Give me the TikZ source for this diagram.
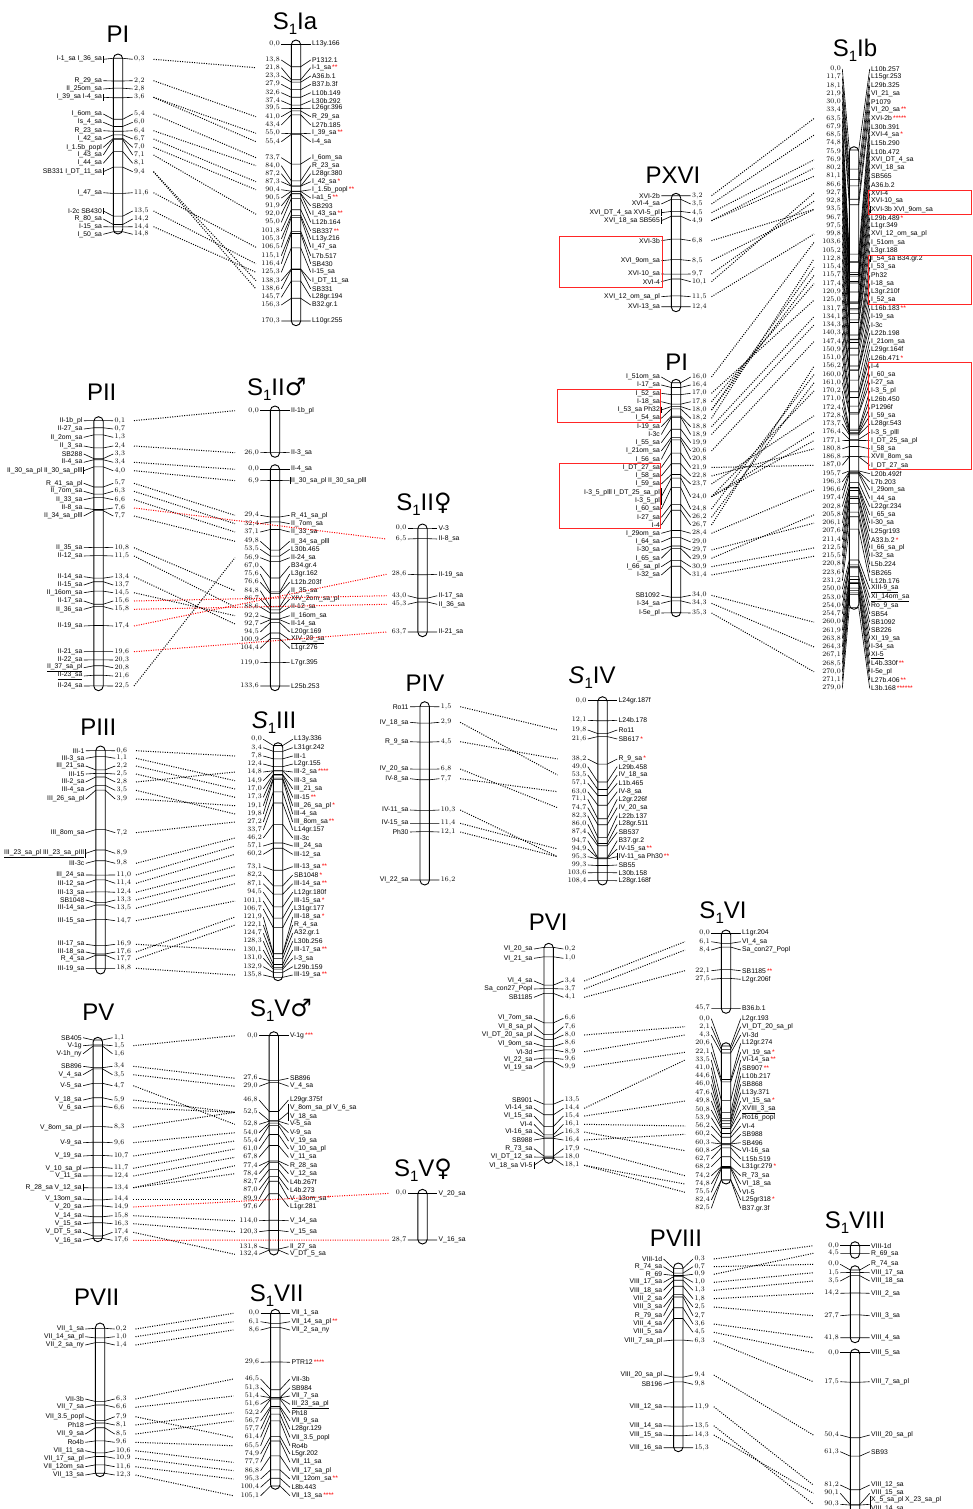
\documentclass[tikz,border=0pt]{standalone}
\usepackage{fontspec}
\setmainfont{Liberation Sans}
\newfontfamily\symf{DejaVu Sans}
\usetikzlibrary{positioning}
\pgfkeys{/pgf/number format/.cd,fixed,fixed zerofill,precision=1,use comma}

\newcommand\rs[1]{\,\textcolor{red}{#1}}
\newcommand\Sone{S\raisebox{-5pt}{\fontsize{15}{15}\selectfont 1}}
\newcommand\Sonei{\textit{S}\raisebox{-5pt}{\fontsize{15}{15}\selectfont 1}}
\newcommand\twor[2]{\begin{tabular}{@{}r@{}}#1\\#2\end{tabular}}
\newcommand\twol[2]{\begin{tabular}{@{}l@{}}#1\\#2\end{tabular}}
\def\armL{10}\def\armR{10}\def\lnkP{35.5}\def\lnkS{40}

% P map: names left, cM right
\newcommand\pmap[7]{%
  \draw[chromo] (#2-4.7,#5) rectangle (#2+4.7,#6);
  \foreach \mpos/\ly/\nm [count=\i] in {#7} {
    \pgfmathsetmacro\by{#3+#4*\mpos}
    \draw[tick] (#2-\armL-4.7,\ly) -- (#2-4.7,\by) -- (#2+4.7,\by) -- (#2+\armR+4.7,\ly);
    \node[lab, anchor=east] (#1-n\i) at (#2-\armL-6,\ly) {\nm};
    \node[lab, anchor=west] (#1-p\i) at (#2+\armR+6,\ly) {\pgfmathprintnumber{\mpos}};
    \coordinate (#1-r\i) at (#2+\lnkP,\ly);
  }
}
% S1 map: cM left, names right
\newcommand\smap[7]{%
  \draw[chromo] (#2-4.7,#5) rectangle (#2+4.7,#6);
  \foreach \mpos/\ly/\nm [count=\i] in {#7} {
    \pgfmathsetmacro\by{#3+#4*\mpos}
    \draw[tick] (#2-\armL-4.7,\ly) -- (#2-4.7,\by) -- (#2+4.7,\by) -- (#2+\armR+4.7,\ly);
    \node[lab, anchor=east] (#1-p\i) at (#2-\armL-6,\ly) {\pgfmathprintnumber{\mpos}};
    \node[lab, anchor=west] (#1-n\i) at (#2+\armR+6,\ly) {\nm};
    \coordinate (#1-l\i) at (#2-\lnkS,\ly);
  }
}

\begin{document}
\catcode`\_=12
\begin{tikzpicture}[x=1pt, y=-1pt,
  chromo/.style={draw=black, fill=white, line width=0.9pt, rounded corners=4.7pt},
  tick/.style={line width=0.6pt},
  lab/.style={font=\fontsize{6.8}{8.2}\selectfont, inner sep=0pt},
  title/.style={font=\fontsize{24}{24}\selectfont, inner sep=0pt, anchor=base},
  link/.style={line width=1pt, dash pattern=on 1pt off 1.4pt},
  redlink/.style={link, draw=red},
  redbox/.style={draw=red!85, line width=0.8pt}]
  \useasboundingbox (0,0) rectangle (972,1509);

  % Titles
  \node[title] (t-PI) at (118,43) {PI};
  \node[title] (t-SIa) at (295,30) {\Sone Ia};
  \node[title] (t-PXVI) at (673,183) {PXVI};
  \node[title] (t-SIb) at (855,56.5) {\Sone Ib};
  \node[title] (t-PIb) at (676.7,370) {PI};
  \node[title] (t-PII) at (101.7,400) {PII};
  \node[title] (t-SIIm) at (276.7,395) {\Sone II{\symf ♂}};
  \node[title] (t-SIIf) at (424,510) {\Sone II{\symf ♀}};
  \node[title] (t-PIII) at (98.3,735) {PIII};
  \node[title] (t-SIII) at (274,728) {\Sonei III};
  \node[title] (t-PIV) at (425,691.5) {PIV};
  \node[title] (t-SIV) at (592,683) {\Sonei IV};
  \node[title] (t-PV) at (98.3,1020) {PV};
  \node[title] (t-SVm) at (281,1016) {\Sone V{\symf ♂}};
  \node[title] (t-SVf) at (423,1176) {\Sone V{\symf ♀}};
  \node[title] (t-PVI) at (548.3,930) {PVI};
  \node[title] (t-SVI) at (723,918) {\Sone VI};
  \node[title] (t-PVII) at (96.7,1305) {PVII};
  \node[title] (t-SVII) at (276.7,1301.5) {\Sone VII};
  \node[title] (t-PVIII) at (676,1246.5) {PVIII};
  \node[title] (t-SVIII) at (855,1228) {\Sone VIII};

  % Group I
  \pmap{PI}{118}{54.7}{11.96}{54}{234}{
    0.3/59.3/I-1_sa I_36_sa, 2.2/80.7/R_29_sa, 2.8/89/II_25om_sa, 3.6/97.3/I_39_sa I-4_sa,
    5.4/114/I_6om_sa, 6.0/122.3/Is_4_sa, 6.4/130.7/R_23_sa, 6.7/139/I_42_sa,
    7.0/147.3/I_1.5b_popl, 7.1/155/I_43_sa, 8.1/163.3/I_44_sa, 9.4/171.7/SB331 I_DT_11_sa,
    11.6/192.7/I_47_sa, 13.5/211/I-2c SB430, 14.2/219/R_80_sa, 14.4/226.7/I-15_sa, 14.8/234.3/I_50_sa}
  \smap{SIa}{296}{44.3}{1.625}{40}{325.7}{
    0.0/44.3/L13y.166, 13.8/60/P1312.1, 21.8/67.7/I-1_sa\rs{**}, 23.3/76/A36.b.1,
    27.9/84.3/B37.b.3f, 32.6/92.7/L10b.149, 37.4/100.7/L30b.292, 39.5/108.3/L26gr.396,
    41.0/116.7/R_29_sa, 43.4/125/L27b.185, 55.0/133.3/I_39_sa\rs{**}, 55.4/141.7/I-4_sa,
    73.7/157.7/I_6om_sa, 84.0/165.7/R_23_sa, 87.2/173.7/L28gr.380, 87.3/181.7/I_42_sa\rs{*},
    90.4/189.7/I_1.5b_popl\rs{**}, 90.5/198/I-a1_5\rs{**}, 91.9/206/SB293, 92.0/214.3/I_43_sa\rs{**},
    95.0/222.3/L12b.164, 101.8/231/SB337\rs{**}, 105.3/239/L13y.216, 106.5/247.3/I_47_sa,
    115.1/255.7/L7b.517, 116.4/263.7/SB430, 125.3/272.3/I-15_sa, 138.3/280.7/I_DT_11_sa,
    138.6/289/SB331, 145.7/297.3/L28gr.194, 156.3/305/B32.gr.1, 170.3/321/L10gr.255}

  % Group XVI and lower part of I
  \pmap{PXVI}{676}{157.1}{12.07}{193.3}{311.7}{
    3.2/195.7/XVI-2b, 3.5/204/XVI-4_sa, 4.5/212.7/XVI_DT_4_sa XVI-5_pl, 4.9/220.7/XVI_18_sa SB565,
    6.8/240.7/XVI-3b, 8.5/260.7/XVI_9om_sa, 9.7/274/XVI-10_sa, 10.1/281.7/XVI-4,
    11.5/296.7/XVI_12_om_sa_pl, 12.4/306.7/XVI-13_sa}
  \pmap{PIb}{676}{192.0}{11.92}{379.3}{616.7}{
    16.0/377/I_51om_sa, 16.4/385/I-17_sa, 17.0/393.3/I_52_sa, 17.8/401.7/I-18_sa,
    18.0/410/I_53_sa Ph32, 18.2/418.3/I_54_sa, 18.8/426.7/I-19_sa, 18.9/434.5/I-3c,
    19.9/442.7/I_55_sa, 20.6/451/I_21om_sa, 20.8/459.3/I_56_sa, 21.9/467.5/I_DT_27_sa,
    22.8/476/I_58_sa, 23.7/484/I_59_sa, 24.0/496.7/{\twor{I-3_5_plll I_DT_25_sa_pl}{I-3_5_pl}},
    24.8/509/I_60_sa, 26.2/517.3/I-27_sa, 26.7/525/I-4, 28.4/533.3/I_29om_sa, 29.0/542/I_64_sa,
    29.7/550/I-30_sa, 29.9/558.3/I_65_sa, 30.9/566.7/I_66_sa_pl, 31.4/575/I-32_sa,
    34.0/595.3/SB1092, 34.3/603.3/I-34_sa, 35.3/613/I-5e_pl}
  \def\armL{7}\def\armR{11}
  \smap{SIb}{854}{150}{1.64}{146.7}{609.3}{
    0.0/69/L10b.257, 11.7/77.3/L15gr.253, 18.1/85.5/L29b.325, 21.9/93.8/VI_21_sa,
    30.0/102/P1079, 33.4/110.3/VI_20_sa\rs{**}, 63.5/118.5/XVI-2b\rs{*****}, 67.9/126.8/L30b.391,
    68.5/135.1/XVI-4_sa\rs{*}, 74.8/143.3/L15b.290, 75.9/151.6/L10b.472, 76.9/159.8/XVI_DT_4_sa,
    80.2/168.1/XVI_18_sa, 81.1/176.3/SB565, 86.6/184.6/A36.b.2, 92.7/192.9/XVI-4,
    92.8/201.1/XVI-10_sa, 93.5/209.4/XVI-3b XVI_9om_sa, 96.7/217.6/L29b.489\rs{*}, 97.5/225.9/L1gr.349,
    99.8/234.1/XVI_12_om_sa_pl, 103.6/242.4/I_51om_sa, 105.2/250.7/L3gr.188, 112.8/258.9/I_54_sa B34.gr.2,
    115.4/267.2/I_53_sa, 115.7/275.4/Ph32, 117.4/283.7/I-18_sa, 120.9/291.9/L3gr.210f,
    125.0/300.2/I_52_sa, 131.7/308.5/L16b.183\rs{**}, 134.1/316.7/I-19_sa, 134.3/325/I-3c,
    140.3/333.2/L22b.198, 147.4/341.5/I_21om_sa, 150.9/349.7/L29gr.164f, 151.0/358/L26b.471\rs{*},
    156.2/366.3/I-4, 160.0/374.5/I_60_sa, 161.0/382.8/I-27_sa, 170.2/391/I-3_5_pl,
    171.0/399.3/L26b.450, 172.4/407.5/P1296f, 172.8/415.8/I_59_sa, 173.7/424.1/L28gr.543,
    176.4/432.3/I-3_5_plll, 177.1/440.6/I_DT_25_sa_pl, 180.8/448.8/I_58_sa, 186.8/457.1/XVII_8om_sa,
    187.0/465.3/I_DT_27_sa, 195.7/473.6/L20b.492f, 196.3/481.9/L7b.203, 196.6/490.1/I_29om_sa,
    197.4/498.4/I_44_sa, 202.8/506.6/L22gr.234, 205.8/514.9/I_65_sa, 206.1/523.1/I-30_sa,
    207.6/531.4/L25gr193, 211.4/539.7/A33.b.2\rs{*}, 212.5/547.9/I_66_sa_pl, 215.5/556.2/I-32_sa,
    220.8/564.4/L5b.224, 223.6/572.7/SB265, 231.2/580.9/L12b.176, 250.0/589.2/\underline{XIII-9_sa},
    253.0/597.5/\underline{XI_14om_sa}, 254.0/605.7/Ro_9_sa, 254.7/614/SB54, 260.0/622.2/SB1092,
    261.9/630.5/SB226, 263.8/638.7/XI_19_sa, 264.3/647/I-34_sa, 267.1/655.3/\underline{XI-5},
    268.5/663.5/L4b.330f\rs{**}, 270.0/671.8/I-5e_pl, 271.1/680/L27b.406\rs{**}, 279.0/688.3/L3b.168\rs{******}}
  \def\armL{10}\def\armR{10}
  \draw[redbox] (559,236.7) rectangle (662,287.3);
  \draw[redbox] (557.3,389) rectangle (660.7,422.7);
  \draw[redbox] (559,463.3) rectangle (660.7,528.3);
  \draw[redbox] (868,190) rectangle (971.5,214);
  \draw[redbox] (868,255.7) rectangle (971.5,304.3);
  \draw[redbox] (868.7,362.3) rectangle (971.5,469);

  % Group II
  \pmap{PII}{98.5}{419.5}{11.84}{416.7}{690.7}{
    0.1/420.7/II-1b_pl, 0.7/429/II-27_sa, 1.3/437.3/II_2om_sa, 2.4/446/II_3_sa, 3.3/454/SB288,
    3.4/462.3/II-4_sa, 4.0/470.7/II_30_sa_pl II_30_sa_plll, 5.7/483.3/R_41_sa_pl, 6.3/491.3/II_7om_sa,
    6.6/499.7/II_33_sa, 7.6/508/II-8_sa, 7.7/516/II_34_sa_plll, 10.8/547.7/II_35_sa, 11.5/556/II-12_sa,
    13.4/576.7/II-14_sa, 13.7/585/II-15_sa, 14.5/592.7/II_16om_sa, 15.6/601/II-17_sa, 15.8/609.3/II_36_sa,
    17.4/626/II-19_sa, 19.6/651.7/II-21_sa, 20.3/660/II-22_sa, 20.8/667.7/\underline{II_37_sa_pl},
    21.6/676/\underline{II-23_sa}, 22.5/686/II-24_sa}
  \smap{SIIma}{275}{410.7}{1.6}{406}{457.3}{0.0/410.7/II-1b_pl, 26.0/452.7/II-3_sa}
  \smap{SIImb}{275}{469.3}{1.622}{464.7}{690.7}{
    0.0/469.3/II-4_sa, 6.9/480.7/II_30_sa_pl II_30_sa_plll, 29.4/515.3/R_41_sa_pl, 32.4/523.7/II_7om_sa,
    37.1/532/II_33_sa, 49.8/541.3/II_34_sa_plll, 53.5/549.3/L30b.465, 56.9/557.7/II-24_sa,
    67.0/566/B34.gr.4, 75.6/574/L3gr.162, 76.6/582.3/L12b.203f, 84.8/590.7/II_35_sa,
    86.7/599/XIV_2om_sa_pl, 88.6/607/II-12_sa, 92.2/615.7/II_16om_sa, 92.7/624/II-14_sa,
    94.5/632/L20gr.169, 100.9/640/\underline{XIV_20_sa}, 104.4/648.3/L1gr.276, 119.0/662.7/L7gr.395,
    133.6/686/L25b.253}
  \def\lnkS{36}
  \smap{SIIf}{422.5}{528}{1.633}{524}{636.7}{
    0.0/528/V-3, 6.5/539/II-8_sa, 28.6/574.3/II-19_sa, 43.0/595.7/II-17_sa, 45.3/604.3/II_36_sa,
    63.7/632/II-21_sa}

  % Group III
  \pmap{PIII}{100.5}{743.5}{11.96}{746}{974}{
    0.6/750.7/III-1, 1.1/758.3/III-3_sa, 2.2/766/III_21_sa, 2.5/774/III-15, 2.8/782/III-2_sa,
    3.5/790.3/III-4_sa, 3.9/799/III_26_sa_pl, 7.2/832.7/III_8om_sa,
    8.9/853.3/\underline{III_23_sa_pl III_23_sa_pIII}, 9.8/863.3/III-3c, 11.0/875/III_24_sa,
    11.4/883.3/III-12_sa, 12.4/892.3/III-13_sa, 13.3/900/SB1048, 13.5/908.3/III-14_sa,
    14.7/920.7/III-15_sa, 16.9/944.3/III-17_sa, 17.6/952/III-18_sa, 17.7/959.3/R_4_sa, 18.8/968.3/III-19_sa}
  \def\lnkS{43}
  \smap{SIII}{278}{745.5}{1.707}{742.7}{980.7}{
    0.0/739.3/L13y.336, 3.4/747.7/L31gr.242, 7.8/756/III-1, 12.4/764/L2gr.155,
    14.8/772/III-2_sa\rs{****}, 14.9/780.7/III-3_sa, 17.0/789/III_21_sa, 17.3/797.3/III-15\rs{**},
    19.1/805.7/III_26_sa_pl\rs{*}, 19.8/814/III-4_sa, 27.2/822/III_8om_sa\rs{**}, 33.7/830/L14gr.157,
    46.2/838/III-3c, 57.1/846/III_24_sa, 60.2/854.3/III-12_sa, 73.1/866.7/III-13_sa\rs{**},
    82.2/875/SB1048\rs{*}, 87.1/883.7/III-14_sa\rs{**}, 94.5/892.3/L12gr.180f, 101.1/901/III-15_sa\rs{*},
    106.7/909/L31gr.177, 121.9/917/III-18_sa\rs{*}, 122.1/925/R_4_sa, 124.7/933.3/A32.gr.1,
    128.3/941.3/L30b.256, 130.1/950/III-17_sa\rs{**}, 131.0/958.3/I-3_sa, 132.9/966.7/L29b.159,
    135.8/975/III-19_sa\rs{**}}

  % Group IV
  \pmap{PIV}{424.7}{689}{11.79}{701.7}{885}{
    1.5/706.7/Ro11, 2.9/722.3/IV_18_sa, 4.5/741.7/R_9_sa, 6.8/769/IV_20_sa, 7.7/778.7/IV-8_sa,
    10.3/810/IV-11_sa, 11.4/823.3/IV-15_sa, 12.1/832/Ph30, 16.2/880/VI_22_sa}
  \def\lnkS{45}
  \smap{SIV}{602.5}{700.7}{1.66}{696.7}{885}{
    0.0/700.7/L24gr.187f, 12.1/720.3/L24b.178, 19.8/730/Ro11, 21.6/739/SB617\rs{*},
    38.2/759/R_9_sa\rs{*}, 49.0/766.7/L29b.458, 53.5/775/IV_18_sa, 57.1/783.3/L1b.465,
    63.0/791.7/IV-8_sa, 71.1/799.3/L2gr.226f, 74.7/807.7/IV_20_sa, 82.3/815.7/L22b.137,
    86.0/824.3/L28gr.511, 87.4/832.3/SB537, 94.7/840.7/B37.gr.2, 94.9/849/IV-15_sa\rs{**},
    95.3/856.7/IV-11_sa Ph30\rs{**}, 99.3/865/SB55, 103.6/872.7/L30b.158, 108.4/880.7/L28gr.168f}

  % Group V
  \pmap{PV}{97.8}{1026.8}{12.02}{1037.3}{1241.7}{
    1.1/1037.7/SB405, 1.5/1045.7/V-1g, 1.6/1053.7/V-1h_ny, 3.4/1066.3/SB896, 3.5/1074.7/V_4_sa,
    4.7/1085.7/V-5_sa, 5.9/1100/V_18_sa, 6.6/1107.7/V_6_sa, 8.3/1127.3/V_8om_sa_pl, 9.6/1142.7/V-9_sa,
    10.7/1156/V_19_sa, 11.7/1168.3/V_10_sa_pl, 12.4/1176/V_11_sa, 13.4/1187.7/R_28_sa V_12_sa,
    14.4/1199/V_13om_sa, 14.9/1207/V_20_sa, 15.8/1215.7/V_14_sa, 16.3/1223.7/V_15_sa,
    17.4/1232.3/V_DT_5_sa, 17.6/1240.3/V_16_sa}
  \def\lnkS{39}
  \smap{SVm}{273.8}{1035.7}{1.619}{1031.7}{1255}{
    0.0/1035.7/V-1g\rs{***}, 27.6/1078.3/SB896, 29.0/1086.3/V_4_sa, 46.8/1100/L29gr.375f,
    52.5/1112.3/{\twol{V_8om_sa_pl V_6_sa}{V_18_sa}}, 52.8/1124.3/V-5_sa, 54.0/1132.7/V-9_sa,
    55.4/1141/V_19_sa, 61.0/1149/V_10_sa_pl, 67.8/1157.3/V_11_sa, 77.4/1165.7/R_28_sa,
    78.4/1173.7/V_12_sa, 82.7/1182.3/L4b.267f, 87.0/1190/L4b.273, 89.9/1199/V_13om_sa\rs{*},
    97.6/1206.7/L1gr.281, 114.0/1220.7/V_14_sa, 120.3/1231.7/V_15_sa, 131.8/1246.7/II_27_sa,
    132.4/1254.3/V_DT_5_sa}
  \def\lnkS{33}
  \smap{SVf}{422.5}{1193.3}{1.627}{1189.3}{1244}{0.0/1193.3/V_20_sa, 28.7/1240/V_16_sa}

  % Group VI
  \pmap{PVI}{548.7}{945}{11.79}{943.3}{1163.3}{
    0.2/949/VI_20_sa, 1.0/958.3/VI_21_sa, 3.4/981/VI_4_sa, 3.7/989/Sa_con27_Popl, 4.1/997.3/SB1185,
    6.6/1018.3/VI_7om_sa, 7.6/1026.7/VI_8_sa_pl, 8.0/1035/VI_DT_20_sa_pl, 8.6/1043.3/VI_9om_sa,
    8.9/1051.7/VI-3d, 9.6/1059.3/VI_22_sa, 9.9/1067.3/VI_19_sa, 13.5/1100/SB901, 14.4/1108.3/VI-14_sa,
    15.4/1116/VI_15_sa, 16.1/1124.3/VI-4, 16.3/1132/VI-16_sa, 16.4/1140/SB988, 17.9/1148.7/R_73_sa,
    18.0/1157/VI_DT_12_sa, 18.1/1165.3/VI_18_sa VI-5}
  \def\lnkS{41}
  \smap{SVIa}{726}{933.3}{1.641}{930}{1013.3}{
    0.0/933.3/L1gr.204, 6.1/941.7/VI_4_sa, 8.4/950/Sa_con27_Popl, 22.1/970.7/SB1185\rs{**},
    27.5/979.3/L2gr.206f, 45.7/1008.3/B36.b.1}
  \smap{SVIb}{726}{1046}{1.624}{1042.7}{1184}{
    0.0/1018.7/L2gr.193, 2.1/1026.7/VI_DT_20_sa_pl, 4.3/1035/VI-3d, 20.6/1043.3/L12gr.274,
    22.1/1052.3/VI_19_sa\rs{*}, 33.5/1060/VI-14_sa\rs{**}, 41.0/1067.7/SB907\rs{**}, 44.6/1076/L10b.217,
    46.0/1084.3/SB868, 47.6/1092.7/L13y.371, 49.8/1101/VI_15_sa\rs{*}, 50.8/1110/\underline{XVIII_3_sa},
    53.9/1117.7/Ro16_popl, 56.2/1126/VI-4, 60.2/1134.3/SB988, 60.3/1142.7/SB496, 60.8/1150.7/VI-16_sa,
    62.7/1159/L15b.519, 68.2/1166.7/L31gr.279\rs{*}, 74.2/1175.7/R_73_sa, 74.8/1184/VI_18_sa,
    75.5/1192.3/VI-5, 82.4/1200/L25gr318\rs{*}, 82.5/1208.3/B37.gr.3f}

  % Group VII
  \pmap{PVII}{100}{1325.9}{11.98}{1323}{1476.7}{
    0.2/1329/VII_1_sa, 1.0/1336.7/VII_14_sa_pl, 1.4/1345/VII_2_sa_ny, 6.3/1399/VII-3b,
    6.6/1407.3/VII_7_sa, 7.9/1416.7/VII_3.5_popl, 8.1/1425/Ph18, 8.5/1434/VII_9_sa, 9.6/1442.3/Ro4b,
    10.6/1450.7/VII_11_sa, 10.9/1458.3/VII_17_sa_pl, 11.6/1466.7/VII_12om_sa, 12.3/1475/VII_13_sa}
  \def\lnkS{42}
  \smap{SVII}{275.3}{1313.3}{1.643}{1309.3}{1489.3}{
    0.0/1313.3/VII_1_sa, 6.1/1321.7/VII_14_sa_pl\rs{**}, 8.6/1330/VII_2_sa_ny, 29.6/1362.3/PTR12\rs{****},
    46.5/1379/VII-3b, 51.3/1387.7/SB984, 51.4/1396/VII_7_sa, 51.6/1404.3/\underline{III_23_sa_pl},
    52.2/1412.7/Ph18, 56.7/1421/VII_9_sa, 57.7/1429.3/L28gr.129, 61.4/1437.3/VII_3.5_popl,
    65.5/1445.7/Ro4b, 74.9/1454/L5gr.202, 77.7/1462.3/VII_11_sa, 86.8/1470.7/VII_17_sa_pl,
    95.3/1479/VII_12om_sa\rs{**}, 100.4/1487.3/L8b.443, 105.1/1495.7/VII_13_sa\rs{****}}

  % Group VIII
  \pmap{PVIII}{678.3}{1264.7}{11.96}{1263}{1451.7}{
    0.3/1259/VIII-1d, 0.7/1266.7/R_74_sa, 0.9/1274.3/R_69, 1.0/1282.3/VIII_17_sa, 1.3/1290.3/VIII_18_sa,
    1.8/1298.7/VIII_2_sa, 2.5/1307/VIII_3_sa, 2.7/1315.7/R_79_sa, 3.6/1324/VIII_4_sa,
    4.5/1332.3/VIII_5_sa, 6.3/1341/VIII_7_sa_pl, 9.4/1375/VIII_20_sa_pl, 9.8/1384.3/SB196,
    11.9/1406.7/VIII_12_sa, 13.5/1425.7/VIII_14_sa, 14.3/1435/VIII_15_sa, 15.3/1447.7/VIII_16_sa}
  \def\lnkS{41.7}
  \smap{SVIIIa}{855}{1245.7}{1.69}{1241.7}{1258.3}{0.0/1245.7/VIII-1d, 4.5/1253.3/R_69_sa}
  \smap{SVIIIb}{855}{1270}{1.62}{1265.7}{1342.7}{
    0.0/1264.3/R_74_sa, 1.5/1272.7/VIII_17_sa, 3.5/1281/VIII_18_sa, 14.2/1293.3/VIII_2_sa,
    27.7/1315.7/VIII_3_sa, 41.8/1337.7/VIII_4_sa}
  \smap{SVIIIc}{855}{1352.7}{1.687}{1349}{1514}{
    0.0/1352.7/VIII_5_sa, 17.5/1381.7/VIII_7_sa_pl, 50.4/1435/VIII_20_sa_pl, 61.3/1451.7/SB93,
    81.2/1485/VIII_12_sa, 90.1/1493.3/VIII_15_sa, 90.3/1504.3/{\twol{X_5_sa_pl X_23_sa_pl}{VIII_14_sa}}}

  % Ticks after labels that hold several markers
  \foreach \nd in {PI-n1, PI-n4, PI-n12, PI-n14, PXVI-n3, PXVI-n4, PIb-n5, PIb-n15, PII-n7, PIII-n9,
      PV-n14, PVI-n21}
    \draw[tick] ([xshift=1.2pt]\nd.north east) -- ([xshift=1.2pt]\nd.south east);
  \foreach \nd in {SIImb-n2, SIV-n17, SIb-n18, SIb-n24, SVm-n5, SVIIIc-n7}
    \draw[tick] ([xshift=-1.2pt]\nd.north west) -- ([xshift=-1.2pt]\nd.south west);

  % Links between the maps
  \foreach \src/\dst in {PI-r1/SIa-l3, PI-r2/SIa-l9, PI-r4/SIa-l11, PI-r4/SIa-l12, PI-r5/SIa-l13,
      PI-r7/SIa-l14, PI-r8/SIa-l16, PI-r9/SIa-l17, PI-r10/SIa-l20, PI-r12/SIa-l28, PI-r12/SIa-l29,
      PI-r13/SIa-l24, PI-r14/SIa-l26, PI-r16/SIa-l27,
      PXVI-r1/SIb-l7, PXVI-r2/SIb-l9, PXVI-r3/SIb-l12, PXVI-r4/SIb-l13, PXVI-r4/SIb-l14,
      PXVI-r5/SIb-l18, PXVI-r6/SIb-l18, PXVI-r7/SIb-l17, PXVI-r8/SIb-l16, PXVI-r9/SIb-l21,
      PIb-r1/SIb-l22, PIb-r3/SIb-l29, PIb-r4/SIb-l27, PIb-r5/SIb-l25, PIb-r5/SIb-l26, PIb-r6/SIb-l24,
      PIb-r7/SIb-l31, PIb-r8/SIb-l32, PIb-r10/SIb-l34, PIb-r12/SIb-l49, PIb-r13/SIb-l47, PIb-r14/SIb-l43,
      PIb-r15/SIb-l45, PIb-r15/SIb-l46, PIb-r15/SIb-l40, PIb-r16/SIb-l38, PIb-r17/SIb-l39, PIb-r18/SIb-l37,
      PIb-r19/SIb-l52, PIb-r21/SIb-l56, PIb-r22/SIb-l55, PIb-r23/SIb-l59, PIb-r24/SIb-l60,
      PIb-r25/SIb-l68, PIb-r26/SIb-l71, PIb-r27/SIb-l74,
      PII-r1/SIIma-l1, PII-r4/SIIma-l2, PII-r6/SIImb-l1, PII-r7/SIImb-l2, PII-r8/SIImb-l3,
      PII-r9/SIImb-l4, PII-r10/SIImb-l5, PII-r12/SIImb-l6, PII-r13/SIImb-l12, PII-r14/SIImb-l14,
      PII-r15/SIImb-l16, PII-r17/SIImb-l15, PII-r25/SIImb-l8,
      PIII-r1/SIII-l3, PIII-r2/SIII-l6, PIII-r3/SIII-l7, PIII-r4/SIII-l8, PIII-r5/SIII-l5,
      PIII-r6/SIII-l10, PIII-r7/SIII-l9, PIII-r8/SIII-l11, PIII-r10/SIII-l13, PIII-r11/SIII-l14,
      PIII-r12/SIII-l15, PIII-r13/SIII-l16, PIII-r14/SIII-l17, PIII-r15/SIII-l18, PIII-r16/SIII-l20,
      PIII-r17/SIII-l26, PIII-r18/SIII-l22, PIII-r19/SIII-l23, PIII-r20/SIII-l29,
      PIV-r1/SIV-l3, PIV-r2/SIV-l7, PIV-r3/SIV-l5, PIV-r4/SIV-l11, PIV-r5/SIV-l9, PIV-r6/SIV-l17,
      PIV-r7/SIV-l16, PIV-r8/SIV-l17,
      PV-r2/SVm-l1, PV-r4/SVm-l2, PV-r5/SVm-l3, PV-r6/SVm-l6, PV-r7/SVm-l5, PV-r8/SVm-l5, PV-r9/SVm-l5,
      PV-r10/SVm-l7, PV-r11/SVm-l8, PV-r12/SVm-l9, PV-r13/SVm-l10, PV-r14/SVm-l11, PV-r14/SVm-l12,
      PV-r15/SVm-l15, PV-r17/SVm-l17, PV-r18/SVm-l18, PV-r19/SVm-l20,
      PVI-r3/SVIa-l2, PVI-r4/SVIa-l3, PVI-r5/SVIa-l4, PVI-r8/SVIb-l2, PVI-r10/SVIb-l3, PVI-r12/SVIb-l5,
      PVI-r14/SVIb-l6, PVI-r15/SVIb-l11, PVI-r16/SVIb-l14, PVI-r17/SVIb-l17, PVI-r18/SVIb-l15,
      PVI-r19/SVIb-l20, PVI-r21/SVIb-l21, PVI-r21/SVIb-l22,
      PVII-r1/SVII-l1, PVII-r2/SVII-l2, PVII-r3/SVII-l3, PVII-r4/SVII-l5, PVII-r5/SVII-l7,
      PVII-r6/SVII-l12, PVII-r7/SVII-l9, PVII-r8/SVII-l10, PVII-r9/SVII-l13, PVII-r10/SVII-l15,
      PVII-r11/SVII-l16, PVII-r12/SVII-l17, PVII-r13/SVII-l19,
      PVIII-r1/SVIIIa-l1, PVIII-r2/SVIIIb-l1, PVIII-r3/SVIIIa-l2, PVIII-r4/SVIIIb-l2, PVIII-r5/SVIIIb-l3,
      PVIII-r6/SVIIIb-l4, PVIII-r7/SVIIIb-l5, PVIII-r9/SVIIIb-l6, PVIII-r10/SVIIIc-l1, PVIII-r11/SVIIIc-l2,
      PVIII-r12/SVIIIc-l3, PVIII-r14/SVIIIc-l5, PVIII-r15/SVIIIc-l7, PVIII-r16/SVIIIc-l6}
    \draw[link] (\src) -- (\dst);
  % links to the female maps
  \foreach \src/\dst in {PII-r11/SIIf-l2, PII-r18/SIIf-l4, PII-r19/SIIf-l5, PII-r20/SIIf-l3,
      PII-r21/SIIf-l6, PV-r16/SVf-l1, PV-r20/SVf-l2}
    \draw[redlink] (\src) -- (\dst);
\end{tikzpicture}
\end{document}
